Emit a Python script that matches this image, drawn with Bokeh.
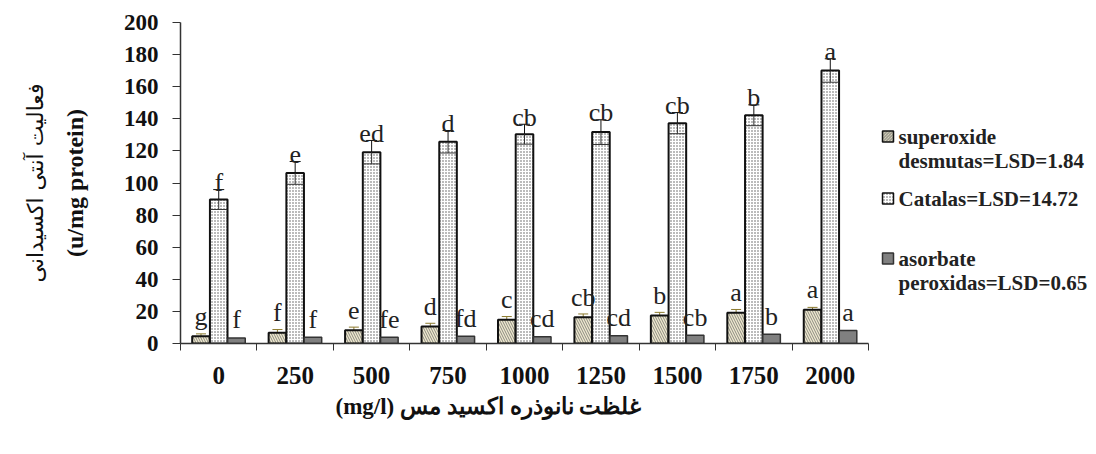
from bokeh.plotting import figure
from bokeh.models import (ColumnDataSource, Range1d, FixedTicker, Whisker, TeeHead, Title)
from bokeh.core.properties import value
from bokeh.embed import file_html
from bokeh.resources import INLINE

# ---- data -------------------------------------------------------------
concentrations = ["0", "250", "500", "750", "1000", "1250", "1500", "1750", "2000"]
sod = [4.5, 6.7, 8.2, 10.6, 14.8, 16.4, 17.4, 19.2, 21.0]
sod_err = [1.5, 2.0, 2.0, 2.0, 2.0, 2.0, 2.0, 2.0, 1.5]
cat = [89.7, 106.3, 119.2, 125.7, 130.4, 131.7, 137.3, 142.2, 170.1]
cat_err = [6.2, 7.1, 7.3, 7.0, 6.2, 7.7, 6.6, 6.5, 7.3]
apx = [3.5, 3.9, 3.9, 4.5, 4.2, 4.8, 5.2, 5.8, 8.1]
sod_letters = ["g", "f", "e", "d", "c", "cb", "b", "a", "a"]
cat_letters = ["f", "e", "ed", "d", "cb", "cb", "cb", "b", "a"]
apx_letters = ["f", "f", "fe", "fd", "cd", "cd", "cb", "b", "a"]
legend_lines = [["superoxide", "desmutas=LSD=1.84"],
                ["Catalas=LSD=14.72"],
                ["asorbate", "peroxidas=LSD=0.65"]]
y_title_fa = "فعالیت آنتی اکسیدانی"
y_title_en = "(u/mg protein)"
x_title = "(mg/l) غلظت نانوذره اکسید مس"

# ---- layout helpers ---------------------------------------------------
n = len(concentrations)
centers = [i + 0.5 for i in range(n)]
bw = 0.23
off = 0.232
SERIF = "Liberation Serif"
FA = "DejaVu Sans"

W, H = 1092, 438
frame_left, frame_top, frame_bottom = 180, 22, 95
frame_h = H - frame_top - frame_bottom
px_per_unit = 688 / 9
px_per_val = frame_h / 200.0
x_end = (W - frame_left) / px_per_unit


def px_to_x(px):
    return (px - frame_left) / px_per_unit


def py_to_y(py):
    return (frame_top + frame_h - py) / px_per_val


p = figure(width=W, height=H, output_backend="svg", toolbar_location=None,
           x_range=Range1d(0, x_end), y_range=Range1d(0, 200),
           min_border_left=frame_left, min_border_right=0,
           min_border_top=frame_top, min_border_bottom=frame_bottom)
p.outline_line_color = None
p.xgrid.visible = False
p.ygrid.visible = False
p.background_fill_color = "white"

src_s = ColumnDataSource(dict(x=[c - off for c in centers], top=sod,
                              upper=[v + e for v, e in zip(sod, sod_err)],
                              lab=sod_letters))
src_c = ColumnDataSource(dict(x=centers, top=cat,
                              upper=[v + e for v, e in zip(cat, cat_err)],
                              lower=[v - e for v, e in zip(cat, cat_err)],
                              lab=cat_letters))
src_a = ColumnDataSource(dict(x=[c + off for c in centers], top=apx, lab=apx_letters))

sty_s = dict(fill_color="#efe8cf", hatch_pattern="left_diagonal_line",
             hatch_color="#8a8a80", hatch_scale=5, hatch_weight=1,
             line_color="#111111", line_width=2)
sty_c = dict(fill_color="white", hatch_pattern="dot",
             hatch_color="#555555", hatch_scale=3, hatch_weight=1,
             line_color="#111111", line_width=2)
sty_a = dict(fill_color="#808080", line_color="#333333", line_width=1.5)

p.vbar(x="x", top="top", bottom=0, width=bw, source=src_s, **sty_s)
p.vbar(x="x", top="top", bottom=0, width=bw, source=src_c, **sty_c)
p.vbar(x="x", top="top", bottom=0, width=bw, source=src_a, **sty_a)

p.add_layout(Whisker(source=src_s, base="x", upper="upper", lower="top",
                     line_color="#8c7a2e", line_width=1,
                     upper_head=TeeHead(size=10, line_color="#8c7a2e", line_width=1),
                     lower_head=None))
p.add_layout(Whisker(source=src_c, base="x", upper="upper", lower="top",
                     line_color="#111111", line_width=1,
                     upper_head=TeeHead(size=11, line_color="#111111", line_width=1),
                     lower_head=None))
# lower half of the catalase error bar, visible inside the bar
p.add_layout(Whisker(source=src_c, base="x", upper="top", lower="lower",
                     line_color="#333333", line_width=1, level="overlay",
                     lower_head=TeeHead(size=17, line_color="#333333", line_width=1),
                     upper_head=None))

lab_kw = dict(text="lab", text_font=value(SERIF), text_font_size="26px",
              text_align="center", text_baseline="alphabetic", text_color="#222222")
p.text(x="x", y="top", source=src_s, y_offset=-20, **lab_kw)
p.text(x="x", y="upper", source=src_c, y_offset=-7, **lab_kw)
p.text(x="x", y="top", source=src_a, y_offset=-18, **lab_kw)

# ---- axes -------------------------------------------------------------
xa = p.xaxis[0]
xa.bounds = (0, n)
xa.ticker = FixedTicker(ticks=centers, minor_ticks=list(range(n + 1)))
xa.major_label_overrides = {c: lab for c, lab in zip(centers, concentrations)}
xa.major_tick_out = 0
xa.major_tick_in = 0
xa.minor_tick_out = 7
xa.minor_tick_in = 0
xa.minor_tick_line_color = "#333333"
xa.axis_line_color = "#333333"
xa.axis_line_width = 1.5
xa.major_label_text_font = SERIF
xa.major_label_text_font_style = "bold"
xa.major_label_text_font_size = "25px"
xa.major_label_text_color = "#111111"
xa.major_label_standoff = 16

ya = p.yaxis[0]
ya.ticker = FixedTicker(ticks=list(range(0, 201, 20)))
ya.major_tick_out = 8
ya.major_tick_in = 0
ya.minor_tick_out = 0
ya.minor_tick_in = 0
ya.major_tick_line_color = "#333333"
ya.axis_line_color = "#333333"
ya.axis_line_width = 1.5
ya.major_label_text_font = SERIF
ya.major_label_text_font_style = "bold"
ya.major_label_text_font_size = "23px"
ya.major_label_text_color = "#111111"
ya.major_label_standoff = 14
ya.axis_label = y_title_en
ya.axis_label_text_font = SERIF
ya.axis_label_text_font_style = "bold"
ya.axis_label_text_font_size = "24px"
ya.axis_label_text_color = "#111111"
ya.axis_label_standoff = 33

p.add_layout(Title(text=y_title_fa, text_font=FA, text_font_size="22px",
                   text_font_style="normal", text_color="#111111",
                   align="center", standoff=22), "left")

p.add_layout(Title(text=x_title, text_font=SERIF, text_font_size="23px",
                   text_font_style="bold", text_color="#111111",
                   align="left", offset=155, standoff=10), "below")

# ---- legend (drawn with glyphs in the empty right part of the frame) ---
leg_glyph_px = 887.5
leg_text_px = 898
leg_line_py = [[136, 160], [198], [258, 282]]
for lines, pys, sty in zip(legend_lines, leg_line_py, [sty_s, sty_c, sty_a]):
    sq = dict(sty)
    sq["line_width"] = 1.5
    if "hatch_scale" in sq:
        sq["hatch_scale"] = 3
    p.rect(x=[px_to_x(leg_glyph_px)], y=[py_to_y(pys[0])], width=11, height=11,
           width_units="screen", height_units="screen", **sq)
    p.text(x=[px_to_x(leg_text_px)] * len(lines), y=[py_to_y(v) for v in pys],
           text=lines, text_font=value(SERIF), text_font_style="bold",
           text_font_size="21px", text_align="left", text_baseline="middle",
           text_color="#222222")

open("out.html", "w").write(file_html(p, INLINE))
